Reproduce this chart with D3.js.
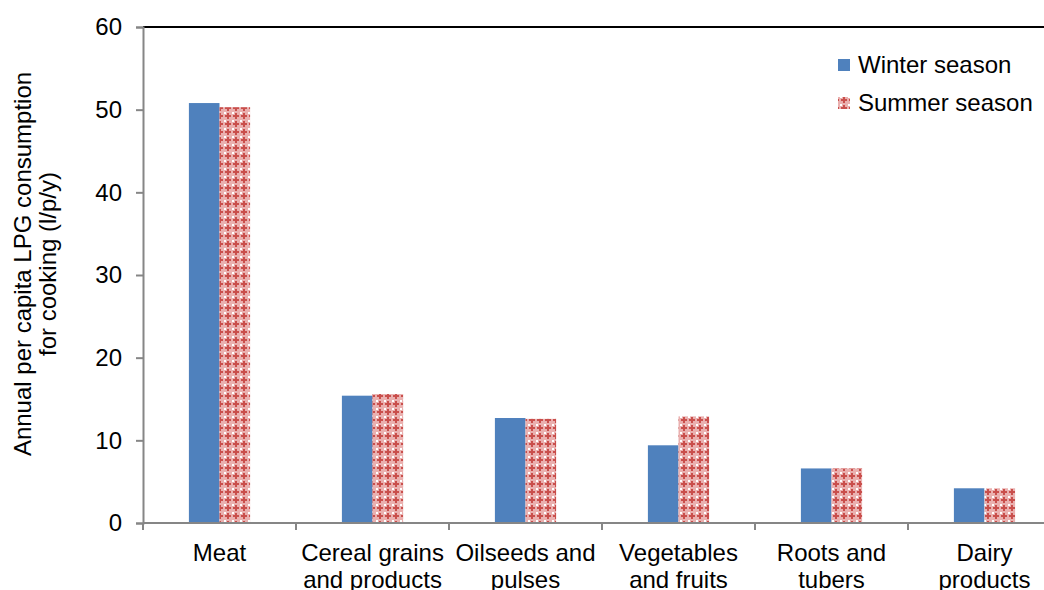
<!DOCTYPE html>
<html><head><meta charset="utf-8">
<script src="https://cdn.jsdelivr.net/npm/d3@7"></script>
<style>body{margin:0;background:#fff}svg{display:block;font-family:"Liberation Sans",Arial,sans-serif}</style>
</head><body><svg id="c" width="1044" height="590"></svg>
<script>
const categories = [["Meat"],["Cereal grains","and products"],["Oilseeds and","pulses"],["Vegetables","and fruits"],["Roots and","tubers"],["Dairy","products"]];
const seriesNames = ["Winter season","Summer season"];
const winter = [50.8, 15.4, 12.7, 9.4, 6.6, 4.2];
const summer = [50.3, 15.6, 12.6, 12.9, 6.6, 4.2];
const yTicks = [0,10,20,30,40,50,60];

const FS = 24;
const svg = d3.select("#c");
const x0 = 143, x1 = 1061, yTop = 27, yBot = 523;
const x = d3.scaleBand().domain(d3.range(categories.length)).range([x0,x1]);
const y = d3.scaleLinear().domain([0,60]).range([yBot,yTop]);
const inner = d3.scaleBand().domain([0,1]).range([0, x.bandwidth()*0.4]);
const off = x.bandwidth()*0.3;

const defs = svg.append("defs");
const p = defs.append("pattern").attr("id","pat").attr("patternUnits","userSpaceOnUse").attr("width",8).attr("height",8);
p.append("rect").attr("width",8).attr("height",8).attr("fill","#eab0af");
p.append("rect").attr("x",0).attr("y",0).attr("width",2).attr("height",2).attr("fill","#ffffff");
p.append("rect").attr("x",3).attr("y",1).attr("width",2).attr("height",6).attr("fill","#c94f4c");
p.append("rect").attr("x",1).attr("y",3).attr("width",6).attr("height",2).attr("fill","#c94f4c");

// bars
const data = [winter, summer];
const fills = ["#4f81bd","url(#pat)"];
data.forEach((vals,s)=>{
  svg.append("g").selectAll("rect").data(vals).join("rect")
    .attr("x",(d,i)=>x(i)+off+inner(s))
    .attr("y",d=>y(d))
    .attr("width",inner.bandwidth())
    .attr("height",d=>y(0)-y(d))
    .attr("fill",fills[s]);
});

// top border
svg.append("line").attr("x1",x0).attr("x2",x1).attr("y1",yTop).attr("y2",yTop).attr("stroke","#000").attr("stroke-width",2);

// y axis
const ya = svg.append("g").attr("transform",`translate(${x0},0)`)
  .call(d3.axisLeft(y).tickValues(yTicks).tickSize(7).tickPadding(14).tickFormat(d3.format("d")));
ya.select(".domain").attr("stroke","#868686").attr("stroke-width",2);
ya.selectAll(".tick line").attr("stroke","#868686").attr("stroke-width",2);
ya.selectAll("text").attr("font-size",FS).attr("fill","#000").attr("font-family","Liberation Sans, Arial, sans-serif");

// x axis
const xa = svg.append("g").attr("transform",`translate(0,${yBot})`);
xa.append("line").attr("x1",x0).attr("x2",x1).attr("stroke","#868686").attr("stroke-width",2);
xa.selectAll(".tk").data(d3.range(categories.length+1)).join("line")
  .attr("x1",i=>x0+i*x.step()).attr("x2",i=>x0+i*x.step()).attr("y1",0).attr("y2",7)
  .attr("stroke","#868686").attr("stroke-width",2);
categories.forEach((lines,i)=>{
  const t = xa.append("text").attr("text-anchor","middle").attr("font-size",FS).attr("fill","#000")
    .attr("transform",`translate(${x(i)+x.bandwidth()/2},0)`);
  lines.forEach((l,j)=>t.append("tspan").attr("x",0).attr("y",38+j*27).text(l));
});

// y title
const yt = svg.append("text").attr("text-anchor","middle").attr("font-size",FS).attr("fill","#000")
  .attr("transform","translate(0,264) rotate(-90)");
yt.append("tspan").attr("x",0).attr("y",31).text("Annual per capita LPG consumption");
yt.append("tspan").attr("x",0).attr("y",56).text("for cooking (l/p/y)");

// legend
const lg = svg.append("g");
seriesNames.forEach((n,i)=>{
  lg.append("rect").attr("x",838).attr("y",59+i*38).attr("width",12).attr("height",12).attr("fill",fills[i]);
  lg.append("text").attr("x",858).attr("y",73+i*38).attr("font-size",FS).attr("fill","#000").text(n);
});
</script></body></html>
